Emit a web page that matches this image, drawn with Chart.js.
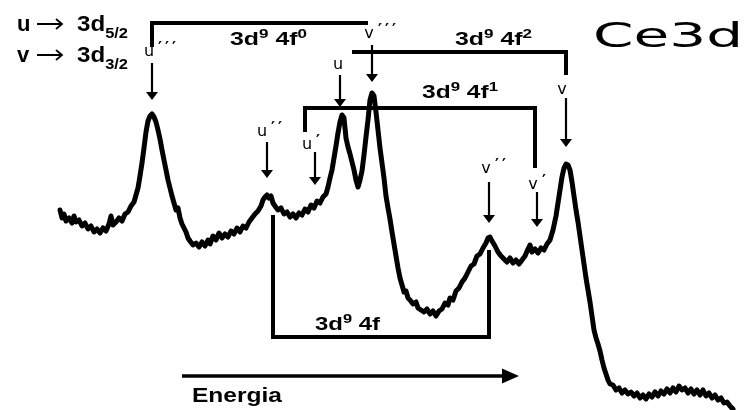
<!DOCTYPE html>
<html>
<head>
<meta charset="utf-8">
<title>Ce3d</title>
<script src="https://cdn.jsdelivr.net/npm/chart.js@4.4.1/dist/chart.umd.min.js"></script>
<style>
  html, body { margin: 0; padding: 0; background: #fff; }
  #wrap { width: 749px; height: 410px; }
</style>
</head>
<body>
<div id="wrap"><canvas id="spectrum"></canvas></div>
<script>
// Ce3d spectrum: energy channel (arbitrary units) and counts
const energy = [
  60, 62, 64, 66, 69, 72, 74, 76, 79, 82, 85, 88, 91, 94, 97, 100, 103, 106, 109, 111,
  113, 116, 119, 122, 125, 128, 131, 134, 136, 138, 140, 142, 144, 146, 148, 150, 152, 154, 156, 158,
  160, 162, 164, 166, 168, 170, 172, 174, 176, 178, 180, 182, 184, 186, 188, 190, 193, 196, 199, 202,
  205, 208, 210, 213, 216, 219, 222, 225, 228, 231, 234, 237, 240, 243, 246, 249, 252, 255, 258, 261,
  263, 265, 267, 269, 271, 273, 275, 278, 281, 284, 287, 290, 293, 296, 299, 302, 305, 308, 311, 314,
  317, 320, 323, 326, 328, 330, 332, 334, 336, 338, 340, 342, 344, 346, 348, 350, 352, 354, 356, 358,
  360, 362, 364, 366, 368, 370, 372, 374, 376, 378, 380, 382, 384, 386, 388, 390, 392, 394, 396, 398,
  400, 402, 404, 406, 408, 410, 413, 416, 418, 421, 424, 427, 430, 433, 436, 439, 442, 445, 448, 450,
  453, 456, 459, 462, 465, 468, 471, 474, 477, 480, 483, 486, 488, 490, 492, 495, 498, 501, 504, 507,
  510, 513, 516, 519, 522, 525, 528, 530, 532, 535, 538, 541, 544, 547, 550, 553, 556, 558, 560, 562,
  564, 566, 568, 570, 572, 574, 576, 578, 580, 582, 584, 586, 588, 590, 592, 594, 596, 598, 600, 602,
  604, 606, 608, 610, 613, 616, 619, 622, 625, 628, 631, 634, 637, 640, 643, 646, 649, 652, 655, 658,
  661, 664, 667, 670, 673, 676, 679, 682, 685, 688, 691, 694, 697, 700, 703, 706, 709, 712, 715, 718,
  721, 724, 727, 730, 733
];
const counts = [
  200, 192, 196, 189, 192, 187, 194, 188, 190, 184, 187, 181, 184, 178, 181, 177, 182, 179, 186, 194,
  185, 188, 192, 189, 196, 198, 204, 208, 215, 222, 234, 247, 262, 278, 289, 294, 296, 293, 288, 280,
  271, 260, 250, 240, 230, 222, 214, 207, 200, 202, 192, 186, 182, 178, 172, 169, 165, 167, 163, 168,
  164, 170, 166, 174, 170, 177, 172, 176, 173, 179, 176, 182, 178, 184, 182, 188, 192, 196, 199, 204,
  210, 213, 215, 212, 214, 207, 204, 200, 202, 196, 198, 193, 196, 192, 197, 195, 201, 198, 205, 202,
  209, 207, 213, 216, 223, 232, 240, 252, 264, 277, 288, 295, 292, 272, 263, 256, 248, 240, 230, 223,
  230, 239, 255, 273, 290, 310, 317, 314, 298, 280, 262, 247, 232, 214, 202, 191, 178, 166, 154, 142,
  132, 125, 118, 119, 112, 110, 106, 108, 102, 100, 98, 101, 96, 99, 94, 99, 101, 107, 105, 112,
  110, 119, 122, 128, 132, 138, 144, 146, 154, 156, 162, 167, 172, 173, 169, 164, 158, 154, 151, 148,
  152, 147, 150, 146, 150, 154, 161, 165, 158, 161, 157, 162, 160, 166, 170, 180, 194, 207, 220, 233,
  242, 246, 245, 240, 228, 214, 200, 188, 174, 160, 146, 132, 120, 108, 94, 80, 72, 66, 59, 50,
  42, 36, 30, 26, 25, 20, 22, 17, 20, 16, 18, 14, 17, 12, 15, 11, 16, 13, 18, 14,
  19, 16, 21, 17, 22, 18, 24, 20, 22, 17, 21, 16, 20, 15, 20, 14, 17, 12, 15, 10,
  12, 7, 8, 4, 1
];

// peak labels (u -> 3d5/2, v -> 3d3/2) and the energy of each marked peak
const peakLetters = ["u", "u", "u", "u", "v", "v", "v", "v"];
const peakPrimes  = [3, 2, 1, 0, 3, 2, 1, 0];
const peakEnergy  = [152, 267, 315, 340, 372, 489, 537, 566];

// final-state groups joining u and v components (superscript of 4f)
const groupSup = ["0", "2", "1", ""];

// annotation layout, in chart units (energy, counts)
const arrowLayout = [
  { top: 347, tip: 310, labelDx: -3, label: 354 },
  { top: 268, tip: 232, labelDx: -5, label: 274 },
  { top: 258, tip: 225, labelDx: -8, label: 261 },
  { top: 335, tip: 303, labelDx: -2, label: 341 },
  { top: 365, tip: 328, labelDx: -3, label: 372 },
  { top: 228, tip: 187, labelDx: -3, label: 237 },
  { top: 218, tip: 183, labelDx: -4, label: 221 },
  { top: 312, tip: 263, labelDx: -4, label: 316 }
];
const groupLayout = [
  { path: [[152, 363], [152, 387], [368, 387]], text: [230, 365], width: 77 },
  { path: [[352, 358], [566, 358], [566, 335]], text: [455, 365], width: 77 },
  { path: [[305, 278], [305, 302], [535, 302], [535, 242]], text: [422, 312], width: 76 },
  { path: [[273, 195], [273, 73], [489, 73], [489, 160]], text: [315, 80], width: 65 }
];

function richText(ctx, x, y, parts, size, width) {
  // measure first so the run can be stretched to the wanted width
  const pieces = parts.map(([t, kind]) => {
    const s = kind === 'n' ? size : Math.round(size * 0.68);
    const font = `bold ${s}px "Liberation Sans", Arial, sans-serif`;
    ctx.font = font;
    return { t, kind, font, w: ctx.measureText(t).width };
  });
  const natural = pieces.reduce((a, p) => a + p.w, 0);
  const sx = width ? width / natural : 1;
  ctx.save();
  ctx.translate(x, y);
  ctx.scale(sx, 1);
  let cx = 0;
  pieces.forEach(p => {
    const dy = p.kind === 'sup' ? -size * 0.36 : p.kind === 'sub' ? size * 0.3 : 0;
    ctx.font = p.font;
    ctx.fillText(p.t, cx, dy);
    cx += p.w;
  });
  ctx.restore();
}

// thin "→" used in the legend lines
function smallArrow(ctx, x0, x1, y) {
  ctx.lineWidth = 1.8;
  ctx.beginPath();
  ctx.moveTo(x0, y);
  ctx.lineTo(x1, y);
  ctx.moveTo(x1 - 6, y - 5);
  ctx.lineTo(x1, y);
  ctx.lineTo(x1 - 6, y + 5);
  ctx.stroke();
}

const annotations = {
  id: 'annotations',
  afterDatasetsDraw(chart) {
    const { ctx, scales: { x, y } } = chart;
    const px = v => x.getPixelForValue(v);
    const py = v => y.getPixelForValue(v);
    ctx.save();
    ctx.fillStyle = '#000';
    ctx.strokeStyle = '#000';
    ctx.textBaseline = 'alphabetic';

    // brackets joining the u/v pairs
    ctx.lineWidth = 4;
    ctx.lineCap = 'butt';
    ctx.lineJoin = 'miter';
    groupLayout.forEach((g, i) => {
      ctx.beginPath();
      g.path.forEach(([ex, cy], k) => {
        if (k === 0) ctx.moveTo(px(ex), py(cy));
        else ctx.lineTo(px(ex), py(cy));
      });
      ctx.stroke();
      const parts = [["3d", 'n'], ["9", 'sup'], [" 4f", 'n']];
      if (groupSup[i]) parts.push([groupSup[i], 'sup']);
      richText(ctx, px(g.text[0]), py(g.text[1]), parts, 19, g.width);
    });

    // peak arrows and labels
    peakEnergy.forEach((e, i) => {
      const a = arrowLayout[i];
      const ax = px(e);
      const top = py(a.top), tip = py(a.tip);
      ctx.lineWidth = 2.2;
      ctx.beginPath();
      ctx.moveTo(ax, top);
      ctx.lineTo(ax, tip - 7);
      ctx.stroke();
      ctx.beginPath();
      ctx.moveTo(ax - 6, tip - 8);
      ctx.lineTo(ax + 6, tip - 8);
      ctx.lineTo(ax, tip);
      ctx.closePath();
      ctx.fill();

      const lx = ax + a.labelDx;
      const ly = py(a.label);
      ctx.font = '16px "DejaVu Sans", sans-serif';
      ctx.textAlign = 'center';
      ctx.fillText(peakLetters[i], lx, ly);
      ctx.textAlign = 'left';
      ctx.font = 'bold 15px "DejaVu Sans", sans-serif';
      for (let k = 0; k < peakPrimes[i]; k++) {
        ctx.fillText('\u2032', lx + 9 + k * 7, ly - 3);
      }
    });

    // energy direction arrow
    ctx.lineWidth = 3.5;
    ctx.beginPath();
    ctx.moveTo(px(182), py(34));
    ctx.lineTo(px(504), py(34));
    ctx.stroke();
    ctx.beginPath();
    ctx.moveTo(px(502), py(34) - 7.5);
    ctx.lineTo(px(519), py(34));
    ctx.lineTo(px(502), py(34) + 7.5);
    ctx.closePath();
    ctx.fill();
    richText(ctx, px(192), py(8), [["Energia", 'n']], 20, 90);

    // legend for the spin-orbit components
    richText(ctx, px(17), py(379), [["u", 'n']], 22);
    richText(ctx, px(77), py(379), [["3d", 'n'], ["5/2", 'sub']], 22, 51);
    richText(ctx, px(17), py(348), [["v", 'n']], 22);
    richText(ctx, px(77), py(348), [["3d", 'n'], ["3/2", 'sub']], 22, 51);
    smallArrow(ctx, px(37), px(62), py(379) - 7);
    smallArrow(ctx, px(37), px(62), py(348) - 7);

    // element / core level title
    ctx.save();
    ctx.translate(px(593), py(363));
    ctx.font = '33px "DejaVu Sans", sans-serif';
    ctx.scale(150 / ctx.measureText('Ce3d').width, 1);
    ctx.fillText('Ce3d', 0, 0);
    ctx.restore();

    ctx.restore();
  }
};

new Chart(document.getElementById('spectrum'), {
  type: 'line',
  data: {
    datasets: [{
      label: 'Ce3d',
      data: energy.map((e, i) => ({ x: e, y: counts[i] })),
      borderColor: '#000',
      borderWidth: 5,
      borderJoinStyle: 'round',
      borderCapStyle: 'round',
      pointRadius: 0,
      tension: 0,
      fill: false
    }]
  },
  options: {
    responsive: true,
    maintainAspectRatio: false,
    animation: false,
    layout: { padding: 0 },
    scales: {
      x: { type: 'linear', display: false, min: 0, max: 749 },
      y: { type: 'linear', display: false, min: 0, max: 410 }
    },
    plugins: {
      legend: { display: false },
      tooltip: { enabled: false }
    }
  },
  plugins: [annotations]
});
</script>
</body>
</html>
